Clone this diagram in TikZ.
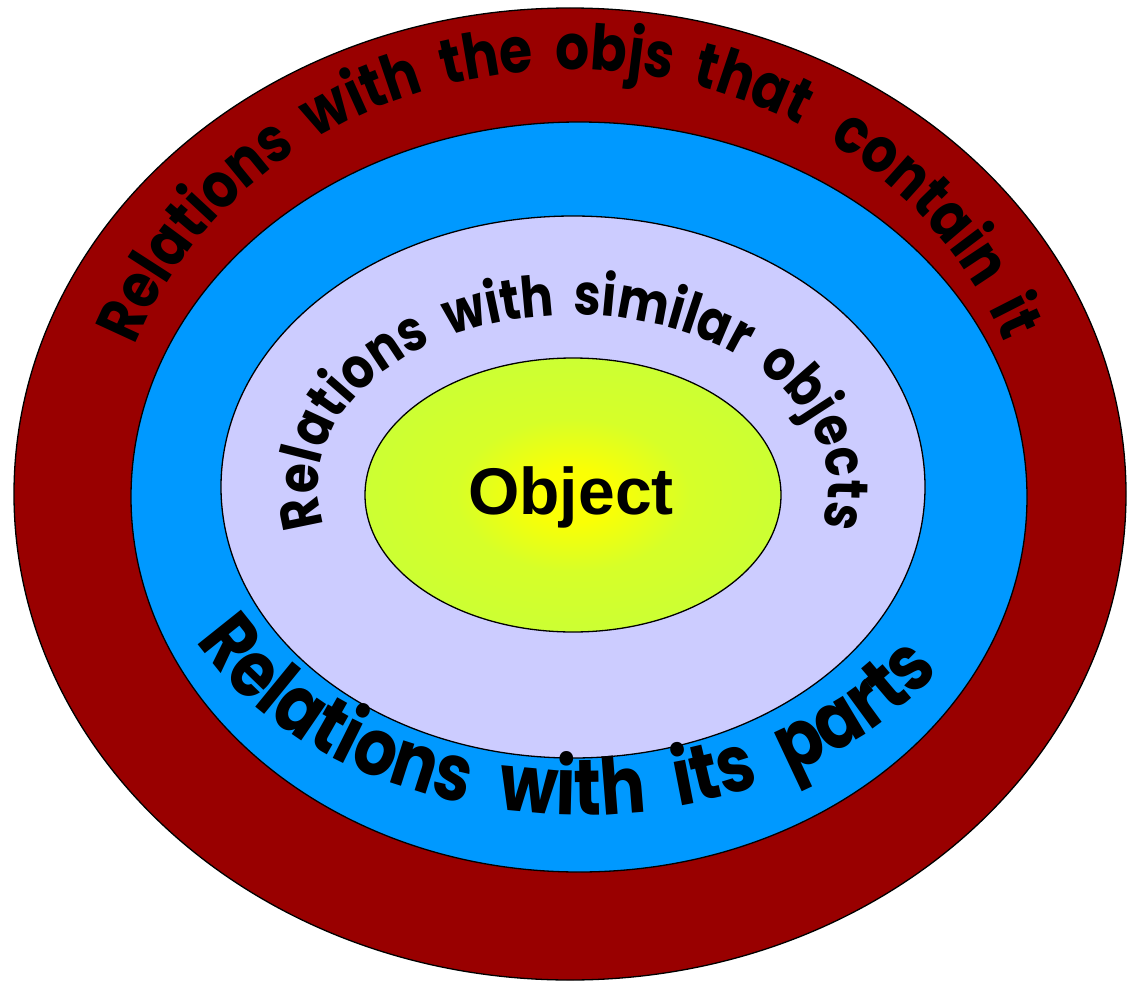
\documentclass[tikz,border=0pt]{standalone}
\usepackage{fontspec}
\usetikzlibrary{decorations.text}
\newfontfamily\comic{Poppins}[FakeStretch=0.85]
\newfontfamily\objfont{Liberation Sans}
\definecolor{ringA}{HTML}{990000}
\definecolor{ringB}{HTML}{0099FF}
\definecolor{ringC}{HTML}{CCCCFF}
\definecolor{coreout}{HTML}{CCFF33}
\definecolor{corein}{HTML}{FFFF00}
\pgfdeclareradialshading{coreshade}{\pgfpoint{0bp}{0bp}}{color(0bp)=(corein); color(5bp)=(corein!90!coreout); color(14bp)=(coreout!80!corein); color(25bp)=(coreout); color(50bp)=(coreout)}
\begin{document}
\begin{tikzpicture}[x=1pt,y=1pt,
  ring/.style={draw=black, line width=1.3pt},
  arctext/.style={decorate, decoration={text along path, text align={fit to path stretching spaces}, text={#1}}}]
\useasboundingbox (0,0) rectangle (1127,-982);
% rings
\path[ring, fill=ringA] (570,-494) ellipse [x radius=556pt, y radius=486pt];
\path[ring, fill=ringB] (579,-497) ellipse [x radius=448pt, y radius=375pt];
\path[ring, fill=ringC] (573,-487) ellipse [x radius=352pt, y radius=271pt];
\path[ring, shading=coreshade] (573,-495) ellipse [x radius=208pt, y radius=137pt];
% curved texts
\coordinate (cA) at (570,-494);
\coordinate (cB) at (579,-497);
\coordinate (cC) at (573,-487);
\path[arctext={|\comic\bfseries\fontsize{63}{63}\selectfont|Relations with the objs that {\ }contain it}]
  (cA) ++(159.5:465pt and 424pt) arc[start angle=159.5, end angle=21, x radius=465pt, y radius=424pt];
\path[arctext={|\comic\bfseries\fontsize{79}{79}\selectfont|Relations with its parts}]
  (cB) ++(207:430pt and 318pt) arc[start angle=207, end angle=327, x radius=430pt, y radius=318pt];
\path[arctext={|\comic\bfseries\fontsize{57}{57}\selectfont|Relations with similar objects}]
  (cC) ++(193:255pt and 172pt) arc[start angle=193, end angle=-13, x radius=255pt, y radius=172pt];
\node[font=\objfont\bfseries\fontsize{66}{66}\selectfont, inner sep=0pt] (obj) at (571,-497) {Object};
\end{tikzpicture}
\end{document}
